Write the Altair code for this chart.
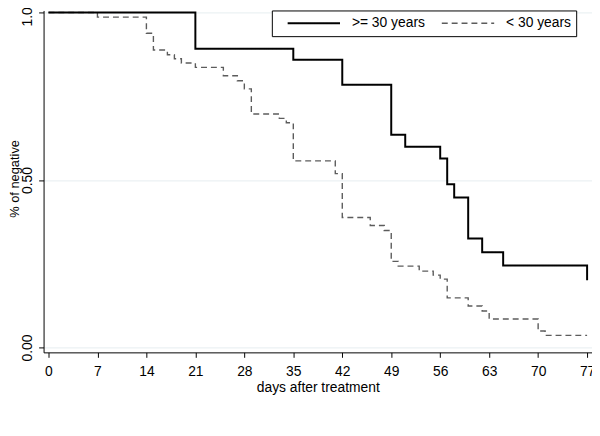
import altair as alt
import pandas as pd

# ---- data (Kaplan-Meier style step curves) ----
groups = [">= 30 years", "< 30 years"]

days_ge30 = [0, 21, 35, 42, 49, 51, 56, 57, 58, 60, 62, 65, 77]
surv_ge30 = [1.0, 0.892, 0.859, 0.784, 0.635, 0.599, 0.564, 0.487, 0.448,
             0.325, 0.284, 0.245, 0.201]

days_lt30 = [0, 7, 14, 15, 17, 18, 19, 21, 25, 27, 28, 29, 33, 34, 35, 41, 42,
             46, 48, 49, 50, 53, 55, 56, 57, 60, 62, 63, 70, 71, 77]
surv_lt30 = [1.0, 0.986, 0.938, 0.888, 0.874, 0.862, 0.849, 0.836, 0.811,
             0.796, 0.772, 0.697, 0.684, 0.671, 0.557, 0.519, 0.388, 0.364,
             0.349, 0.257, 0.243, 0.228, 0.216, 0.204, 0.148, 0.124, 0.109,
             0.085, 0.049, 0.036, 0.036]

x_ticks = [0, 7, 14, 21, 28, 35, 42, 49, 56, 63, 70, 77]
y_ticks = [0.0, 0.5, 1.0]

df = pd.concat([
    pd.DataFrame({"day": days_ge30, "surv": surv_ge30, "group": groups[0]}),
    pd.DataFrame({"day": days_lt30, "surv": surv_lt30, "group": groups[1]}),
], ignore_index=True)

FONT = "Liberation Sans"

legend = alt.Legend(
    title=None, orient="none", legendX=231, legendY=0, direction="horizontal",
    columns=2, gridAlign="all", symbolType="stroke", symbolSize=2809,
    symbolOffset=10, labelOffset=11, columnPadding=6, padding=5,
    clipHeight=16,
    strokeColor="#000000", fillColor="#ffffff", labelFont=FONT,
    labelFontSize=14, labelColor="#000000",
)

x_enc = alt.X(
    "day:Q",
    scale=alt.Scale(domain=[-0.7, 77.7], nice=False, zero=False),
    axis=alt.Axis(values=x_ticks, title="days after treatment", grid=False,
                  labelBaseline="alphabetic", labelPadding=18,
                  titleBaseline="alphabetic", titleY=40, titleFontSize=14),
)
y_enc = alt.Y(
    "surv:Q",
    scale=alt.Scale(domain=[-0.0146, 1.006], nice=False, zero=False),
    axis=alt.Axis(values=y_ticks, format=".2f", title="% of negative",
                  grid=True, labelAngle=270, labelAlign="center",
                  labelBaseline="alphabetic", labelPadding=7,
                  titleAngle=270, titleAlign="center",
                  titleBaseline="alphabetic", titleX=-25.5, titleY=170,
                  titleFontSize=13),
)
color_enc = alt.Color("group:N", scale=alt.Scale(domain=groups,
                      range=["#000000", "#5c5c5c"]), legend=legend)
dash_enc = alt.StrokeDash("group:N", scale=alt.Scale(domain=groups,
                          range=[[1, 0], [6, 4]]), legend=legend)
width_enc = alt.StrokeWidth("group:N", scale=alt.Scale(domain=groups,
                            range=[2.0, 1.4]), legend=legend)

base = alt.Chart(df).mark_line(interpolate="step-after", clip=False).encode(
    x=x_enc, y=y_enc, color=color_enc, strokeDash=dash_enc,
    strokeWidth=width_enc, order="day:Q",
)

dashed = base.transform_filter(alt.datum.group == groups[1])
solid = base.transform_filter(alt.datum.group == groups[0])

chart = alt.layer(dashed, solid).properties(
    width=555, height=346,
    autosize=alt.AutoSizeParams(type="none"),
    padding={"left": 36, "top": 0, "right": 0, "bottom": 70},
    background="#ffffff",
).configure_view(strokeWidth=0).configure_axis(
    labelFont=FONT, titleFont=FONT, labelFontSize=14, labelColor="#000000",
    titleColor="#000000", titleFontWeight="normal", domainColor="#000000",
    domainWidth=1, tickColor="#000000", tickSize=5, tickWidth=1,
    gridColor="#e6eef0", gridWidth=1,
)

chart.save("out.html", embed_options={"renderer": "svg", "actions": False})
